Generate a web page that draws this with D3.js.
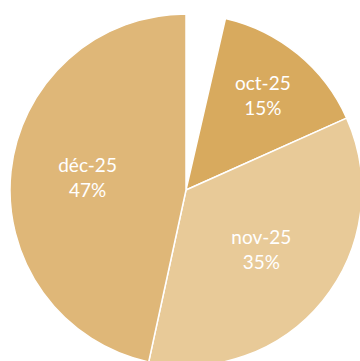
<!DOCTYPE html>
<html><head><meta charset="utf-8">
<script src="https://cdn.jsdelivr.net/npm/d3@7/dist/d3.min.js"></script>
<style>html,body{margin:0;padding:0;background:#fff;overflow:hidden}</style>
</head><body>
<svg id="chart" width="360" height="361"></svg>
<script>
// Data
const categories = ["", "oct-25", "nov-25", "déc-25"];
const values = [3.6, 14.7, 35.1, 46.6];
const colors = ["#ffffff", "#D8AA5E", "#E8CA98", "#DFB778"];
const showLabel = [false, true, true, true];

// Layout
const cx = 186, cy = 190, R = 176;
const labelRadii = [0, 121, 97, 99];

const svg = d3.select("#chart");
const g = svg.append("g").attr("transform", `translate(${cx},${cy})`);

const total = d3.sum(values);
const pie = d3.pie().sort(null).value(d => d.v).startAngle(0).endAngle(2 * Math.PI);
const data = categories.map((c, i) => ({ c, v: values[i], i }));
const arcs = pie(data);

const arc = d3.arc().innerRadius(0).outerRadius(R);

g.selectAll("path.slice").data(arcs).join("path")
  .attr("class", "slice")
  .attr("d", arc)
  .attr("fill", d => colors[d.data.i])
  .attr("stroke", "#fff")
  .attr("stroke-width", 1.5)
  .attr("stroke-linejoin", "round");

const fmt = d3.format(".0%");
const lbl = g.selectAll("text.lbl").data(arcs.filter(d => showLabel[d.data.i])).join("text")
  .attr("class", "lbl")
  .attr("transform", d => {
    const lr = labelRadii[d.data.i];
    const c = d3.arc().innerRadius(lr).outerRadius(lr).centroid(d);
    return `translate(${c[0]},${c[1]})`;
  })
  .attr("text-anchor", "middle")
  .attr("fill", "#fff")
  .attr("font-family", "Lato, 'Open Sans', sans-serif")
  .attr("font-size", 19);

lbl.append("tspan").attr("x", 0).attr("y", -7).text(d => d.data.c);
lbl.append("tspan").attr("x", 0).attr("y", 18).text(d => fmt(d.data.v / total));
</script>
</body></html>
